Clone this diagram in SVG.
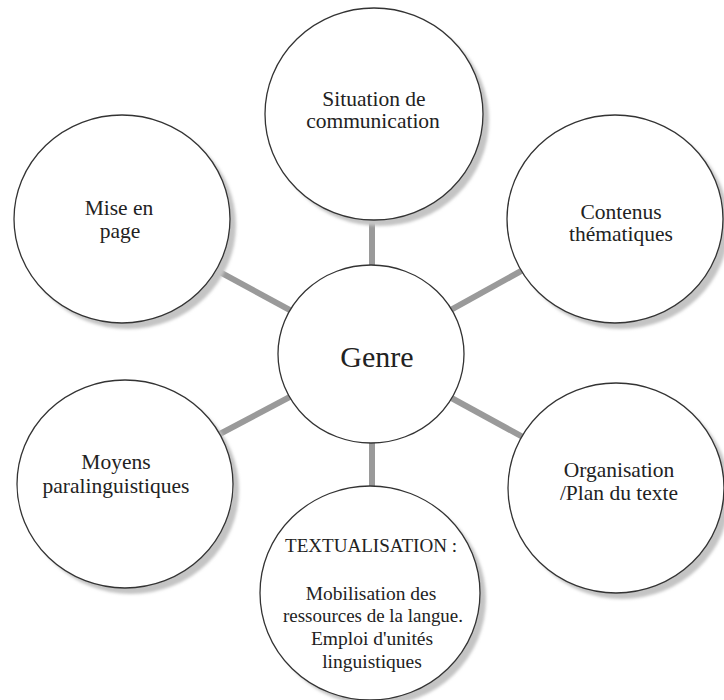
<svg xmlns="http://www.w3.org/2000/svg" width="724" height="700" viewBox="0 0 724 700" font-family="'Liberation Serif', 'Times New Roman', 'DejaVu Serif', serif">
<defs>
<filter id="sh" x="-20%" y="-20%" width="140%" height="140%">
<feGaussianBlur stdDeviation="1.5"/>
</filter>
<style>
.shadow{fill:#c4c4c4;filter:url(#sh)}
.node{fill:#fff;stroke:#333;stroke-width:1.3}
.conn{stroke:#9a9a9a;stroke-width:6;fill:none}
.t{font-family:'Liberation Serif','Times New Roman','DejaVu Serif',serif;fill:#222;text-anchor:middle;font-size:21.5px}
.big{font-size:30px}
.sm{font-size:19.5px}
</style>
</defs>
<rect width="724" height="700" fill="#fff"/>
<g id="connectors">
<line class="conn" x1="372" y1="114" x2="372" y2="354"/>
<line class="conn" x1="122" y1="219" x2="371" y2="354"/>
<line class="conn" x1="615" y1="219" x2="371" y2="354"/>
<line class="conn" x1="125" y1="484" x2="371" y2="354"/>
<line class="conn" x1="616" y1="488" x2="371" y2="354"/>
<line class="conn" x1="372" y1="354" x2="372" y2="593"/>
</g>
<g id="node-situation">
<ellipse class="shadow" cx="380" cy="120" rx="109" ry="106"/>
<ellipse class="node" cx="374" cy="114" rx="109" ry="106"/>
<text class="t" x="374" y="106">Situation de</text>
<text class="t" x="373" y="128">communication</text>
</g>
<g id="node-mise">
<ellipse class="shadow" cx="128" cy="225" rx="108" ry="104"/>
<ellipse class="node" cx="122" cy="219" rx="108" ry="104"/>
<text class="t" x="119" y="215">Mise en</text>
<text class="t" x="120" y="238">page</text>
</g>
<g id="node-contenus">
<ellipse class="shadow" cx="621" cy="225" rx="108" ry="104"/>
<ellipse class="node" cx="615" cy="219" rx="108" ry="104"/>
<text class="t" x="621" y="219">Contenus</text>
<text class="t" x="621" y="241">thématiques</text>
</g>
<g id="node-moyens">
<ellipse class="shadow" cx="131" cy="490" rx="108" ry="104"/>
<ellipse class="node" cx="125" cy="484" rx="108" ry="104"/>
<text class="t" x="116" y="469">Moyens</text>
<text class="t" x="116" y="493">paralinguistiques</text>
</g>
<g id="node-organisation">
<ellipse class="shadow" cx="622" cy="494" rx="108" ry="105"/>
<ellipse class="node" cx="616" cy="488" rx="108" ry="105"/>
<text class="t" x="619" y="477">Organisation</text>
<text class="t" x="619" y="500">/Plan du texte</text>
</g>
<g id="node-textualisation">
<ellipse class="shadow" cx="376" cy="599" rx="110" ry="107"/>
<ellipse class="node" cx="370" cy="593" rx="110" ry="107"/>
<text class="t sm" x="371" y="552" textLength="172" lengthAdjust="spacingAndGlyphs">TEXTUALISATION :</text>
<text class="t sm" x="371" y="600">Mobilisation des</text>
<text class="t sm" x="373" y="622" textLength="180" lengthAdjust="spacingAndGlyphs">ressources de la langue.</text>
<text class="t sm" x="372" y="645">Emploi d'unités</text>
<text class="t sm" x="372" y="668">linguistiques</text>
</g>
<g id="node-genre">
<ellipse class="node" cx="371" cy="354" rx="93" ry="89"/>
<text class="t big" x="377" y="367">Genre</text>
</g>
</svg>
